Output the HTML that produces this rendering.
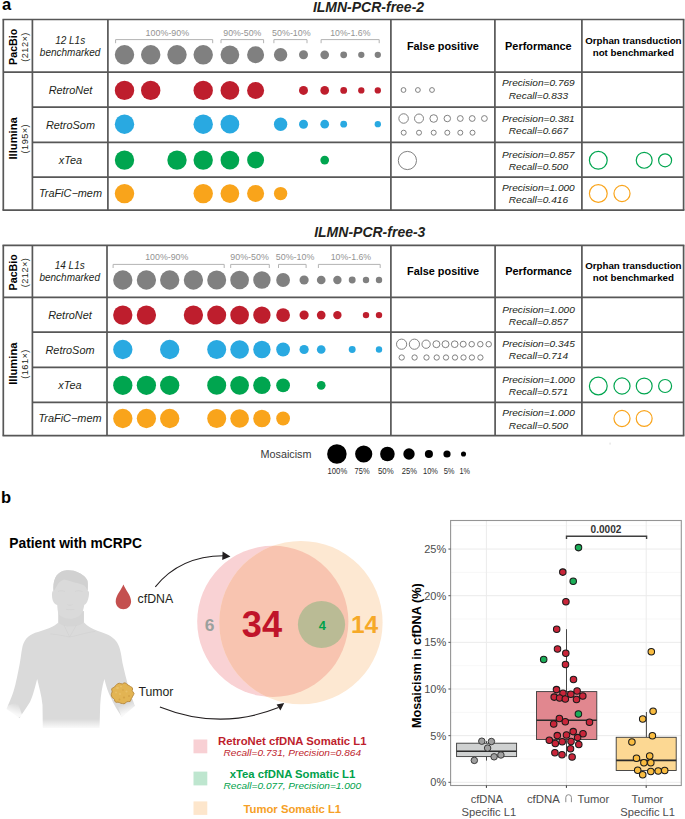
<!DOCTYPE html><html><head><meta charset="utf-8"><style>html,body{margin:0;padding:0;background:#fff;}svg{display:block;}text{font-family:"Liberation Sans",sans-serif;}</style></head><body>
<svg width="685" height="819" viewBox="0 0 685 819">
<rect width="685" height="819" fill="#fff"/>
<text x="2.0" y="9.8" font-size="16.5" font-weight="bold" font-style="normal" fill="#000" text-anchor="start" >a</text>
<text x="368.5" y="11.7" font-size="14.0" font-weight="bold" font-style="italic" fill="#231F20" text-anchor="middle" >ILMN-PCR-free-2</text>
<line x1="2.5" y1="19.5" x2="684.4" y2="19.5" stroke="#575757" stroke-width="1.7"/>
<line x1="2.5" y1="210.2" x2="684.4" y2="210.2" stroke="#575757" stroke-width="1.7"/>
<line x1="3.3" y1="19.5" x2="3.3" y2="210.2" stroke="#575757" stroke-width="1.7"/>
<line x1="683.6" y1="19.5" x2="683.6" y2="210.2" stroke="#575757" stroke-width="1.7"/>
<line x1="32.4" y1="19.5" x2="32.4" y2="210.2" stroke="#575757" stroke-width="1.7"/>
<line x1="107.9" y1="19.5" x2="107.9" y2="210.2" stroke="#575757" stroke-width="1.7"/>
<line x1="390.9" y1="19.5" x2="390.9" y2="210.2" stroke="#575757" stroke-width="1.7"/>
<line x1="494.9" y1="19.5" x2="494.9" y2="210.2" stroke="#575757" stroke-width="1.7"/>
<line x1="581.9" y1="19.5" x2="581.9" y2="210.2" stroke="#575757" stroke-width="1.7"/>
<line x1="3.3" y1="72.1" x2="683.6" y2="72.1" stroke="#575757" stroke-width="1.7"/>
<line x1="32.4" y1="107.1" x2="683.6" y2="107.1" stroke="#575757" stroke-width="1.7"/>
<line x1="32.4" y1="142.3" x2="683.6" y2="142.3" stroke="#575757" stroke-width="1.7"/>
<line x1="32.4" y1="177.1" x2="683.6" y2="177.1" stroke="#575757" stroke-width="1.7"/>
<g transform="translate(17.0,46.8) rotate(-90)"><text x="0" y="0" font-size="10.7" font-weight="bold" text-anchor="middle" fill="#000">PacBio</text></g>
<g transform="translate(27.7,47.0) rotate(-90)"><text x="0" y="0" font-size="9.2" letter-spacing="0.45" text-anchor="middle" fill="#231F20">(212×)</text></g>
<g transform="translate(17.0,138.34999999999997) rotate(-90)"><text x="0" y="0" font-size="11.2" font-weight="bold" text-anchor="middle" fill="#000">Illumina</text></g>
<g transform="translate(27.7,138.64999999999998) rotate(-90)"><text x="0" y="0" font-size="9.2" letter-spacing="0.45" text-anchor="middle" fill="#231F20">(195×)</text></g>
<text x="70.15" y="43.9" font-size="10" font-weight="normal" font-style="italic" fill="#231F20" text-anchor="middle" >12 L1s</text>
<text x="70.15" y="55.599999999999994" font-size="10" font-weight="normal" font-style="italic" fill="#231F20" text-anchor="middle" >benchmarked</text>
<text x="70.45" y="93.9" font-size="10.3" font-style="italic" fill="#231F20" text-anchor="middle" textLength="43.61" lengthAdjust="spacingAndGlyphs">RetroNet</text>
<text x="70.45" y="128.9" font-size="10.3" font-style="italic" fill="#231F20" text-anchor="middle" textLength="49.06" lengthAdjust="spacingAndGlyphs">RetroSom</text>
<text x="70.45" y="164.3" font-size="10.3" font-style="italic" fill="#231F20" text-anchor="middle" textLength="23.23" lengthAdjust="spacingAndGlyphs">xTea</text>
<text x="70.45" y="196.9" font-size="10.3" font-style="italic" fill="#231F20" text-anchor="middle" textLength="63.08" lengthAdjust="spacingAndGlyphs">TraFiC−mem</text>
<text x="442.9" y="49.6" font-size="10.9" font-weight="bold" font-style="normal" fill="#000" text-anchor="middle" >False positive</text>
<text x="538.4" y="49.6" font-size="10.9" font-weight="bold" font-style="normal" fill="#000" text-anchor="middle" >Performance</text>
<text x="633.35" y="44.0" font-size="9.75" font-weight="bold" font-style="normal" fill="#000" text-anchor="middle" >Orphan transduction</text>
<text x="633.35" y="55.800000000000004" font-size="9.75" font-weight="bold" font-style="normal" fill="#000" text-anchor="middle" >not benchmarked</text>
<path d="M115.6,43.2 V39.6 H212.7 V43.2" fill="none" stroke="#B3B3B3" stroke-width="1"/>
<text x="167.4" y="35.5" font-size="9.4" fill="#939393" text-anchor="middle" textLength="43.6" lengthAdjust="spacingAndGlyphs">100%-90%</text>
<path d="M221,43.2 V39.6 H263.6 V43.2" fill="none" stroke="#B3B3B3" stroke-width="1"/>
<text x="242.3" y="35.5" font-size="9.4" fill="#939393" text-anchor="middle" textLength="38.0" lengthAdjust="spacingAndGlyphs">90%-50%</text>
<path d="M273.9,43.2 V39.6 H307 V43.2" fill="none" stroke="#B3B3B3" stroke-width="1"/>
<text x="291.4" y="35.5" font-size="9.4" fill="#939393" text-anchor="middle" textLength="38.6" lengthAdjust="spacingAndGlyphs">50%-10%</text>
<path d="M321.1,43.2 V39.6 H379.2 V43.2" fill="none" stroke="#B3B3B3" stroke-width="1"/>
<text x="350.3" y="35.5" font-size="9.4" fill="#939393" text-anchor="middle" textLength="40.2" lengthAdjust="spacingAndGlyphs">10%-1.6%</text>
<circle cx="124.50" cy="54.80" r="9.70" fill="#808080" stroke="none" stroke-width="1"/>
<circle cx="150.70" cy="54.80" r="9.70" fill="#808080" stroke="none" stroke-width="1"/>
<circle cx="177.00" cy="54.80" r="9.70" fill="#808080" stroke="none" stroke-width="1"/>
<circle cx="203.20" cy="54.80" r="9.70" fill="#808080" stroke="none" stroke-width="1"/>
<circle cx="229.90" cy="54.80" r="9.35" fill="#808080" stroke="none" stroke-width="1"/>
<circle cx="255.60" cy="54.80" r="8.50" fill="#808080" stroke="none" stroke-width="1"/>
<circle cx="280.60" cy="54.80" r="6.70" fill="#808080" stroke="none" stroke-width="1"/>
<circle cx="303.50" cy="54.80" r="4.50" fill="#808080" stroke="none" stroke-width="1"/>
<circle cx="324.70" cy="54.80" r="4.35" fill="#808080" stroke="none" stroke-width="1"/>
<circle cx="343.70" cy="54.80" r="3.40" fill="#808080" stroke="none" stroke-width="1"/>
<circle cx="361.30" cy="54.80" r="3.15" fill="#808080" stroke="none" stroke-width="1"/>
<circle cx="377.80" cy="54.80" r="3.15" fill="#808080" stroke="none" stroke-width="1"/>
<circle cx="124.50" cy="90.40" r="9.70" fill="#BE1E2D" stroke="none" stroke-width="1"/>
<circle cx="150.70" cy="90.40" r="9.70" fill="#BE1E2D" stroke="none" stroke-width="1"/>
<circle cx="203.20" cy="90.40" r="9.70" fill="#BE1E2D" stroke="none" stroke-width="1"/>
<circle cx="229.90" cy="90.40" r="9.35" fill="#BE1E2D" stroke="none" stroke-width="1"/>
<circle cx="255.60" cy="90.40" r="8.50" fill="#BE1E2D" stroke="none" stroke-width="1"/>
<circle cx="303.50" cy="90.40" r="4.50" fill="#BE1E2D" stroke="none" stroke-width="1"/>
<circle cx="324.70" cy="90.40" r="4.35" fill="#BE1E2D" stroke="none" stroke-width="1"/>
<circle cx="343.70" cy="90.40" r="3.40" fill="#BE1E2D" stroke="none" stroke-width="1"/>
<circle cx="361.30" cy="90.40" r="3.15" fill="#BE1E2D" stroke="none" stroke-width="1"/>
<circle cx="377.80" cy="90.40" r="3.15" fill="#BE1E2D" stroke="none" stroke-width="1"/>
<circle cx="124.50" cy="124.20" r="9.70" fill="#29A9E1" stroke="none" stroke-width="1"/>
<circle cx="203.20" cy="124.20" r="9.70" fill="#29A9E1" stroke="none" stroke-width="1"/>
<circle cx="229.90" cy="124.20" r="9.35" fill="#29A9E1" stroke="none" stroke-width="1"/>
<circle cx="280.60" cy="124.20" r="6.70" fill="#29A9E1" stroke="none" stroke-width="1"/>
<circle cx="303.50" cy="124.20" r="4.50" fill="#29A9E1" stroke="none" stroke-width="1"/>
<circle cx="324.70" cy="124.20" r="4.35" fill="#29A9E1" stroke="none" stroke-width="1"/>
<circle cx="343.70" cy="124.20" r="3.40" fill="#29A9E1" stroke="none" stroke-width="1"/>
<circle cx="377.80" cy="124.20" r="3.15" fill="#29A9E1" stroke="none" stroke-width="1"/>
<circle cx="124.50" cy="160.10" r="9.70" fill="#00A54F" stroke="none" stroke-width="1"/>
<circle cx="177.00" cy="160.10" r="9.70" fill="#00A54F" stroke="none" stroke-width="1"/>
<circle cx="203.20" cy="160.10" r="9.70" fill="#00A54F" stroke="none" stroke-width="1"/>
<circle cx="229.90" cy="160.10" r="9.35" fill="#00A54F" stroke="none" stroke-width="1"/>
<circle cx="255.60" cy="160.10" r="8.50" fill="#00A54F" stroke="none" stroke-width="1"/>
<circle cx="324.70" cy="160.10" r="4.35" fill="#00A54F" stroke="none" stroke-width="1"/>
<circle cx="124.50" cy="193.60" r="9.70" fill="#F9A41B" stroke="none" stroke-width="1"/>
<circle cx="203.20" cy="193.60" r="9.70" fill="#F9A41B" stroke="none" stroke-width="1"/>
<circle cx="229.90" cy="193.60" r="9.35" fill="#F9A41B" stroke="none" stroke-width="1"/>
<circle cx="255.60" cy="193.60" r="8.50" fill="#F9A41B" stroke="none" stroke-width="1"/>
<circle cx="280.60" cy="193.60" r="6.70" fill="#F9A41B" stroke="none" stroke-width="1"/>
<text x="538.4" y="86.4" font-size="9.0" font-style="italic" fill="#231F20" text-anchor="middle" textLength="72.71" lengthAdjust="spacingAndGlyphs">Precision=0.769</text>
<text x="538.4" y="99.4" font-size="9.0" font-style="italic" fill="#231F20" text-anchor="middle" textLength="59.24" lengthAdjust="spacingAndGlyphs">Recall=0.833</text>
<text x="538.4" y="122.2" font-size="9.0" font-style="italic" fill="#231F20" text-anchor="middle" textLength="72.71" lengthAdjust="spacingAndGlyphs">Precision=0.381</text>
<text x="538.4" y="134.4" font-size="9.0" font-style="italic" fill="#231F20" text-anchor="middle" textLength="59.24" lengthAdjust="spacingAndGlyphs">Recall=0.667</text>
<text x="538.4" y="157.7" font-size="9.0" font-style="italic" fill="#231F20" text-anchor="middle" textLength="72.71" lengthAdjust="spacingAndGlyphs">Precision=0.857</text>
<text x="538.4" y="170.2" font-size="9.0" font-style="italic" fill="#231F20" text-anchor="middle" textLength="59.24" lengthAdjust="spacingAndGlyphs">Recall=0.500</text>
<text x="538.4" y="191.1" font-size="9.0" font-style="italic" fill="#231F20" text-anchor="middle" textLength="72.71" lengthAdjust="spacingAndGlyphs">Precision=1.000</text>
<text x="538.4" y="203.2" font-size="9.0" font-style="italic" fill="#231F20" text-anchor="middle" textLength="59.24" lengthAdjust="spacingAndGlyphs">Recall=0.416</text>
<circle cx="403.50" cy="90.00" r="2.40" fill="none" stroke="#7A7A7A" stroke-width="0.95"/>
<circle cx="417.90" cy="90.00" r="2.40" fill="none" stroke="#7A7A7A" stroke-width="0.95"/>
<circle cx="432.00" cy="90.00" r="2.40" fill="none" stroke="#7A7A7A" stroke-width="0.95"/>
<circle cx="403.60" cy="118.50" r="4.75" fill="none" stroke="#7A7A7A" stroke-width="0.95"/>
<circle cx="419.00" cy="118.50" r="4.50" fill="none" stroke="#7A7A7A" stroke-width="0.95"/>
<circle cx="433.70" cy="118.50" r="3.80" fill="none" stroke="#7A7A7A" stroke-width="0.95"/>
<circle cx="447.30" cy="118.50" r="3.25" fill="none" stroke="#7A7A7A" stroke-width="0.95"/>
<circle cx="460.30" cy="118.50" r="2.90" fill="none" stroke="#7A7A7A" stroke-width="0.95"/>
<circle cx="472.20" cy="118.50" r="2.90" fill="none" stroke="#7A7A7A" stroke-width="0.95"/>
<circle cx="484.40" cy="118.50" r="2.90" fill="none" stroke="#7A7A7A" stroke-width="0.95"/>
<circle cx="403.70" cy="132.70" r="2.50" fill="none" stroke="#7A7A7A" stroke-width="0.95"/>
<circle cx="419.00" cy="132.70" r="2.50" fill="none" stroke="#7A7A7A" stroke-width="0.95"/>
<circle cx="433.70" cy="132.70" r="2.50" fill="none" stroke="#7A7A7A" stroke-width="0.95"/>
<circle cx="447.30" cy="132.70" r="2.50" fill="none" stroke="#7A7A7A" stroke-width="0.95"/>
<circle cx="460.30" cy="132.70" r="2.50" fill="none" stroke="#7A7A7A" stroke-width="0.95"/>
<circle cx="472.50" cy="132.70" r="2.50" fill="none" stroke="#7A7A7A" stroke-width="0.95"/>
<circle cx="407.40" cy="160.50" r="9.10" fill="none" stroke="#7A7A7A" stroke-width="0.95"/>
<circle cx="598.30" cy="160.30" r="8.90" fill="none" stroke="#00A54F" stroke-width="1.2"/>
<circle cx="644.20" cy="160.30" r="7.95" fill="none" stroke="#00A54F" stroke-width="1.2"/>
<circle cx="665.10" cy="160.30" r="6.50" fill="none" stroke="#00A54F" stroke-width="1.2"/>
<circle cx="598.30" cy="193.50" r="8.90" fill="none" stroke="#F9A41B" stroke-width="1.2"/>
<circle cx="622.00" cy="193.50" r="8.05" fill="none" stroke="#F9A41B" stroke-width="1.2"/>
<text x="369.8" y="237.4" font-size="14.0" font-weight="bold" font-style="italic" fill="#231F20" text-anchor="middle" >ILMN-PCR-free-3</text>
<line x1="2.5" y1="245.3" x2="684.4" y2="245.3" stroke="#575757" stroke-width="1.7"/>
<line x1="2.5" y1="435.6" x2="684.4" y2="435.6" stroke="#575757" stroke-width="1.7"/>
<line x1="3.3" y1="245.3" x2="3.3" y2="435.6" stroke="#575757" stroke-width="1.7"/>
<line x1="683.6" y1="245.3" x2="683.6" y2="435.6" stroke="#575757" stroke-width="1.7"/>
<line x1="32.4" y1="245.3" x2="32.4" y2="435.6" stroke="#575757" stroke-width="1.7"/>
<line x1="107.0" y1="245.3" x2="107.0" y2="435.6" stroke="#575757" stroke-width="1.7"/>
<line x1="390.9" y1="245.3" x2="390.9" y2="435.6" stroke="#575757" stroke-width="1.7"/>
<line x1="495.1" y1="245.3" x2="495.1" y2="435.6" stroke="#575757" stroke-width="1.7"/>
<line x1="581.9" y1="245.3" x2="581.9" y2="435.6" stroke="#575757" stroke-width="1.7"/>
<line x1="3.3" y1="297.3" x2="683.6" y2="297.3" stroke="#575757" stroke-width="1.7"/>
<line x1="32.4" y1="332.2" x2="683.6" y2="332.2" stroke="#575757" stroke-width="1.7"/>
<line x1="32.4" y1="367.3" x2="683.6" y2="367.3" stroke="#575757" stroke-width="1.7"/>
<line x1="32.4" y1="402.3" x2="683.6" y2="402.3" stroke="#575757" stroke-width="1.7"/>
<g transform="translate(17.0,272.3) rotate(-90)"><text x="0" y="0" font-size="10.7" font-weight="bold" text-anchor="middle" fill="#000">PacBio</text></g>
<g transform="translate(27.7,272.5) rotate(-90)"><text x="0" y="0" font-size="9.2" letter-spacing="0.45" text-anchor="middle" fill="#231F20">(212×)</text></g>
<g transform="translate(17.0,363.65000000000003) rotate(-90)"><text x="0" y="0" font-size="11.2" font-weight="bold" text-anchor="middle" fill="#000">Illumina</text></g>
<g transform="translate(27.7,363.95000000000005) rotate(-90)"><text x="0" y="0" font-size="9.2" letter-spacing="0.45" text-anchor="middle" fill="#231F20">(161×)</text></g>
<text x="69.7" y="269.40000000000003" font-size="10" font-weight="normal" font-style="italic" fill="#231F20" text-anchor="middle" >14 L1s</text>
<text x="69.7" y="281.1" font-size="10" font-weight="normal" font-style="italic" fill="#231F20" text-anchor="middle" >benchmarked</text>
<text x="70.0" y="318.9" font-size="10.3" font-style="italic" fill="#231F20" text-anchor="middle" textLength="43.61" lengthAdjust="spacingAndGlyphs">RetroNet</text>
<text x="70.0" y="353.5" font-size="10.3" font-style="italic" fill="#231F20" text-anchor="middle" textLength="49.06" lengthAdjust="spacingAndGlyphs">RetroSom</text>
<text x="70.0" y="389.3" font-size="10.3" font-style="italic" fill="#231F20" text-anchor="middle" textLength="23.23" lengthAdjust="spacingAndGlyphs">xTea</text>
<text x="70.0" y="421.6" font-size="10.3" font-style="italic" fill="#231F20" text-anchor="middle" textLength="63.08" lengthAdjust="spacingAndGlyphs">TraFiC−mem</text>
<text x="443.0" y="274.9" font-size="10.9" font-weight="bold" font-style="normal" fill="#000" text-anchor="middle" >False positive</text>
<text x="538.5" y="274.9" font-size="10.9" font-weight="bold" font-style="normal" fill="#000" text-anchor="middle" >Performance</text>
<text x="633.35" y="269.29999999999995" font-size="9.75" font-weight="bold" font-style="normal" fill="#000" text-anchor="middle" >Orphan transduction</text>
<text x="633.35" y="281.09999999999997" font-size="9.75" font-weight="bold" font-style="normal" fill="#000" text-anchor="middle" >not benchmarked</text>
<path d="M113.1,268.0 V264.4 H224.2 V268.0" fill="none" stroke="#B3B3B3" stroke-width="1"/>
<text x="166.8" y="260.29999999999995" font-size="9.4" fill="#939393" text-anchor="middle" textLength="43.2" lengthAdjust="spacingAndGlyphs">100%-90%</text>
<path d="M230.7,268.0 V264.4 H269.3 V268.0" fill="none" stroke="#B3B3B3" stroke-width="1"/>
<text x="249.6" y="260.29999999999995" font-size="9.4" fill="#939393" text-anchor="middle" textLength="38.5" lengthAdjust="spacingAndGlyphs">90%-50%</text>
<path d="M278.5,268.0 V264.4 H306.1 V268.0" fill="none" stroke="#B3B3B3" stroke-width="1"/>
<text x="295.1" y="260.29999999999995" font-size="9.4" fill="#939393" text-anchor="middle" textLength="38.5" lengthAdjust="spacingAndGlyphs">50%-10%</text>
<path d="M318.4,268.0 V264.4 H380.2 V268.0" fill="none" stroke="#B3B3B3" stroke-width="1"/>
<text x="350.9" y="260.29999999999995" font-size="9.4" fill="#939393" text-anchor="middle" textLength="40.3" lengthAdjust="spacingAndGlyphs">10%-1.6%</text>
<circle cx="122.80" cy="280.00" r="9.65" fill="#808080" stroke="none" stroke-width="1"/>
<circle cx="146.40" cy="280.00" r="9.65" fill="#808080" stroke="none" stroke-width="1"/>
<circle cx="169.70" cy="280.00" r="9.65" fill="#808080" stroke="none" stroke-width="1"/>
<circle cx="193.40" cy="280.00" r="9.65" fill="#808080" stroke="none" stroke-width="1"/>
<circle cx="216.70" cy="280.00" r="9.50" fill="#808080" stroke="none" stroke-width="1"/>
<circle cx="239.60" cy="280.00" r="9.35" fill="#808080" stroke="none" stroke-width="1"/>
<circle cx="261.90" cy="280.00" r="8.70" fill="#808080" stroke="none" stroke-width="1"/>
<circle cx="283.10" cy="280.00" r="6.90" fill="#808080" stroke="none" stroke-width="1"/>
<circle cx="304.10" cy="280.00" r="4.60" fill="#808080" stroke="none" stroke-width="1"/>
<circle cx="321.20" cy="280.00" r="4.35" fill="#808080" stroke="none" stroke-width="1"/>
<circle cx="337.40" cy="280.00" r="4.20" fill="#808080" stroke="none" stroke-width="1"/>
<circle cx="352.20" cy="280.00" r="3.45" fill="#808080" stroke="none" stroke-width="1"/>
<circle cx="366.00" cy="280.00" r="3.20" fill="#808080" stroke="none" stroke-width="1"/>
<circle cx="379.00" cy="280.00" r="3.20" fill="#808080" stroke="none" stroke-width="1"/>
<circle cx="122.80" cy="315.10" r="9.65" fill="#BE1E2D" stroke="none" stroke-width="1"/>
<circle cx="146.40" cy="315.10" r="9.65" fill="#BE1E2D" stroke="none" stroke-width="1"/>
<circle cx="193.40" cy="315.10" r="9.65" fill="#BE1E2D" stroke="none" stroke-width="1"/>
<circle cx="216.70" cy="315.10" r="9.50" fill="#BE1E2D" stroke="none" stroke-width="1"/>
<circle cx="239.60" cy="315.10" r="9.35" fill="#BE1E2D" stroke="none" stroke-width="1"/>
<circle cx="261.90" cy="315.10" r="8.70" fill="#BE1E2D" stroke="none" stroke-width="1"/>
<circle cx="283.10" cy="315.10" r="6.90" fill="#BE1E2D" stroke="none" stroke-width="1"/>
<circle cx="304.10" cy="315.10" r="4.60" fill="#BE1E2D" stroke="none" stroke-width="1"/>
<circle cx="321.20" cy="315.10" r="4.35" fill="#BE1E2D" stroke="none" stroke-width="1"/>
<circle cx="337.40" cy="315.10" r="4.20" fill="#BE1E2D" stroke="none" stroke-width="1"/>
<circle cx="366.00" cy="315.10" r="3.20" fill="#BE1E2D" stroke="none" stroke-width="1"/>
<circle cx="379.00" cy="315.10" r="3.20" fill="#BE1E2D" stroke="none" stroke-width="1"/>
<circle cx="122.80" cy="349.50" r="9.65" fill="#29A9E1" stroke="none" stroke-width="1"/>
<circle cx="169.70" cy="349.50" r="9.65" fill="#29A9E1" stroke="none" stroke-width="1"/>
<circle cx="216.70" cy="349.50" r="9.50" fill="#29A9E1" stroke="none" stroke-width="1"/>
<circle cx="239.60" cy="349.50" r="9.35" fill="#29A9E1" stroke="none" stroke-width="1"/>
<circle cx="261.90" cy="349.50" r="8.70" fill="#29A9E1" stroke="none" stroke-width="1"/>
<circle cx="283.10" cy="349.50" r="6.90" fill="#29A9E1" stroke="none" stroke-width="1"/>
<circle cx="304.10" cy="349.50" r="4.60" fill="#29A9E1" stroke="none" stroke-width="1"/>
<circle cx="321.20" cy="349.50" r="4.35" fill="#29A9E1" stroke="none" stroke-width="1"/>
<circle cx="352.20" cy="349.50" r="3.45" fill="#29A9E1" stroke="none" stroke-width="1"/>
<circle cx="379.00" cy="349.50" r="3.20" fill="#29A9E1" stroke="none" stroke-width="1"/>
<circle cx="122.80" cy="385.30" r="9.65" fill="#00A54F" stroke="none" stroke-width="1"/>
<circle cx="146.40" cy="385.30" r="9.65" fill="#00A54F" stroke="none" stroke-width="1"/>
<circle cx="169.70" cy="385.30" r="9.65" fill="#00A54F" stroke="none" stroke-width="1"/>
<circle cx="216.70" cy="385.30" r="9.50" fill="#00A54F" stroke="none" stroke-width="1"/>
<circle cx="239.60" cy="385.30" r="9.35" fill="#00A54F" stroke="none" stroke-width="1"/>
<circle cx="261.90" cy="385.30" r="8.70" fill="#00A54F" stroke="none" stroke-width="1"/>
<circle cx="283.10" cy="385.30" r="6.90" fill="#00A54F" stroke="none" stroke-width="1"/>
<circle cx="321.20" cy="385.30" r="4.35" fill="#00A54F" stroke="none" stroke-width="1"/>
<circle cx="122.80" cy="418.50" r="9.65" fill="#F9A41B" stroke="none" stroke-width="1"/>
<circle cx="146.40" cy="418.50" r="9.65" fill="#F9A41B" stroke="none" stroke-width="1"/>
<circle cx="169.70" cy="418.50" r="9.65" fill="#F9A41B" stroke="none" stroke-width="1"/>
<circle cx="216.70" cy="418.50" r="9.50" fill="#F9A41B" stroke="none" stroke-width="1"/>
<circle cx="239.60" cy="418.50" r="9.35" fill="#F9A41B" stroke="none" stroke-width="1"/>
<circle cx="261.90" cy="418.50" r="8.70" fill="#F9A41B" stroke="none" stroke-width="1"/>
<circle cx="283.10" cy="418.50" r="6.90" fill="#F9A41B" stroke="none" stroke-width="1"/>
<text x="538.5" y="312.6" font-size="9.0" font-style="italic" fill="#231F20" text-anchor="middle" textLength="72.71" lengthAdjust="spacingAndGlyphs">Precision=1.000</text>
<text x="538.5" y="325.1" font-size="9.0" font-style="italic" fill="#231F20" text-anchor="middle" textLength="59.24" lengthAdjust="spacingAndGlyphs">Recall=0.857</text>
<text x="538.5" y="346.7" font-size="9.0" font-style="italic" fill="#231F20" text-anchor="middle" textLength="72.71" lengthAdjust="spacingAndGlyphs">Precision=0.345</text>
<text x="538.5" y="359.0" font-size="9.0" font-style="italic" fill="#231F20" text-anchor="middle" textLength="59.24" lengthAdjust="spacingAndGlyphs">Recall=0.714</text>
<text x="538.5" y="382.8" font-size="9.0" font-style="italic" fill="#231F20" text-anchor="middle" textLength="72.71" lengthAdjust="spacingAndGlyphs">Precision=1.000</text>
<text x="538.5" y="395.1" font-size="9.0" font-style="italic" fill="#231F20" text-anchor="middle" textLength="59.24" lengthAdjust="spacingAndGlyphs">Recall=0.571</text>
<text x="538.5" y="416.3" font-size="9.0" font-style="italic" fill="#231F20" text-anchor="middle" textLength="72.71" lengthAdjust="spacingAndGlyphs">Precision=1.000</text>
<text x="538.5" y="428.5" font-size="9.0" font-style="italic" fill="#231F20" text-anchor="middle" textLength="59.24" lengthAdjust="spacingAndGlyphs">Recall=0.500</text>
<circle cx="401.60" cy="344.20" r="5.10" fill="none" stroke="#7A7A7A" stroke-width="0.95"/>
<circle cx="414.40" cy="344.20" r="5.10" fill="none" stroke="#7A7A7A" stroke-width="0.95"/>
<circle cx="426.10" cy="344.20" r="4.15" fill="none" stroke="#7A7A7A" stroke-width="0.95"/>
<circle cx="436.40" cy="344.20" r="3.50" fill="none" stroke="#7A7A7A" stroke-width="0.95"/>
<circle cx="445.50" cy="344.20" r="3.50" fill="none" stroke="#7A7A7A" stroke-width="0.95"/>
<circle cx="454.70" cy="344.20" r="3.35" fill="none" stroke="#7A7A7A" stroke-width="0.95"/>
<circle cx="463.20" cy="344.20" r="3.00" fill="none" stroke="#7A7A7A" stroke-width="0.95"/>
<circle cx="471.70" cy="344.20" r="2.75" fill="none" stroke="#7A7A7A" stroke-width="0.95"/>
<circle cx="480.30" cy="344.20" r="2.75" fill="none" stroke="#7A7A7A" stroke-width="0.95"/>
<circle cx="488.70" cy="344.20" r="2.75" fill="none" stroke="#7A7A7A" stroke-width="0.95"/>
<circle cx="401.70" cy="357.50" r="2.65" fill="none" stroke="#7A7A7A" stroke-width="0.95"/>
<circle cx="414.60" cy="357.50" r="2.65" fill="none" stroke="#7A7A7A" stroke-width="0.95"/>
<circle cx="426.50" cy="357.50" r="2.65" fill="none" stroke="#7A7A7A" stroke-width="0.95"/>
<circle cx="436.70" cy="357.50" r="2.65" fill="none" stroke="#7A7A7A" stroke-width="0.95"/>
<circle cx="446.00" cy="357.50" r="2.65" fill="none" stroke="#7A7A7A" stroke-width="0.95"/>
<circle cx="455.00" cy="357.50" r="2.65" fill="none" stroke="#7A7A7A" stroke-width="0.95"/>
<circle cx="463.50" cy="357.50" r="2.65" fill="none" stroke="#7A7A7A" stroke-width="0.95"/>
<circle cx="471.90" cy="357.50" r="2.65" fill="none" stroke="#7A7A7A" stroke-width="0.95"/>
<circle cx="480.40" cy="357.50" r="2.65" fill="none" stroke="#7A7A7A" stroke-width="0.95"/>
<circle cx="598.30" cy="386.00" r="8.90" fill="none" stroke="#00A54F" stroke-width="1.2"/>
<circle cx="622.00" cy="386.00" r="8.05" fill="none" stroke="#00A54F" stroke-width="1.2"/>
<circle cx="644.20" cy="386.00" r="7.95" fill="none" stroke="#00A54F" stroke-width="1.2"/>
<circle cx="665.10" cy="386.00" r="6.50" fill="none" stroke="#00A54F" stroke-width="1.2"/>
<circle cx="622.00" cy="418.50" r="8.05" fill="none" stroke="#F9A41B" stroke-width="1.2"/>
<circle cx="644.20" cy="418.50" r="7.95" fill="none" stroke="#F9A41B" stroke-width="1.2"/>
<text x="286" y="457.9" font-size="10.8" font-weight="normal" font-style="normal" fill="#3A3A3A" text-anchor="middle" >Mosaicism</text>
<circle cx="336.90" cy="454.00" r="9.75" fill="#000" stroke="none" stroke-width="1"/>
<text x="337.4" y="473.8" font-size="8.4" fill="#2B2B2B" text-anchor="middle" textLength="19.6" lengthAdjust="spacingAndGlyphs">100%</text>
<circle cx="363.70" cy="454.00" r="8.60" fill="#000" stroke="none" stroke-width="1"/>
<text x="362.1" y="473.8" font-size="8.4" fill="#2B2B2B" text-anchor="middle" textLength="15.0" lengthAdjust="spacingAndGlyphs">75%</text>
<circle cx="387.40" cy="454.00" r="7.30" fill="#000" stroke="none" stroke-width="1"/>
<text x="385.8" y="473.8" font-size="8.4" fill="#2B2B2B" text-anchor="middle" textLength="15.6" lengthAdjust="spacingAndGlyphs">50%</text>
<circle cx="409.00" cy="454.00" r="5.70" fill="#000" stroke="none" stroke-width="1"/>
<text x="409.3" y="473.8" font-size="8.4" fill="#2B2B2B" text-anchor="middle" textLength="15.2" lengthAdjust="spacingAndGlyphs">25%</text>
<circle cx="428.90" cy="454.00" r="4.05" fill="#000" stroke="none" stroke-width="1"/>
<text x="430.5" y="473.8" font-size="8.4" fill="#2B2B2B" text-anchor="middle" textLength="14.9" lengthAdjust="spacingAndGlyphs">10%</text>
<circle cx="447.00" cy="454.00" r="3.60" fill="#000" stroke="none" stroke-width="1"/>
<text x="449.1" y="473.8" font-size="8.4" fill="#2B2B2B" text-anchor="middle" textLength="10.9" lengthAdjust="spacingAndGlyphs">5%</text>
<circle cx="463.50" cy="454.00" r="2.55" fill="#000" stroke="none" stroke-width="1"/>
<text x="464.8" y="473.8" font-size="8.4" fill="#2B2B2B" text-anchor="middle" textLength="10.5" lengthAdjust="spacingAndGlyphs">1%</text>
<rect x="609.6" y="442.6" width="0.9" height="2" fill="#d8d8d8"/>
<text x="0.9" y="503.4" font-size="16.5" font-weight="bold" font-style="normal" fill="#000" text-anchor="start" >b</text>
<text x="9.3" y="548.2" font-size="13.8" font-weight="bold" font-style="normal" fill="#000" text-anchor="start" >Patient with mCRPC</text>
<defs><linearGradient id="fw" x1="0" y1="0" x2="0" y2="1"><stop offset="0" stop-color="#fff" stop-opacity="0"/><stop offset="1" stop-color="#fff" stop-opacity="0.92"/></linearGradient><linearGradient id="fwL" gradientUnits="userSpaceOnUse" x1="16.2" y1="703.5" x2="13.2" y2="713.2"><stop offset="0" stop-color="#fff" stop-opacity="0"/><stop offset="1" stop-color="#fff" stop-opacity="0.85"/></linearGradient><linearGradient id="fwR" gradientUnits="userSpaceOnUse" x1="125.5" y1="703.5" x2="128.6" y2="712.6"><stop offset="0" stop-color="#fff" stop-opacity="0"/><stop offset="1" stop-color="#fff" stop-opacity="0.85"/></linearGradient></defs>
<path d="M58.4,611 L58.4,622.5 C54,627 46,629.5 38,632 C30,634 25,638 22.6,646 C21,653 20.5,662 18.5,670 C16.5,680 14.5,690 11.5,697 C9.5,702 8,705 6.5,709 L19.6,718 C23,712 27,707 30,702 C33,696 35,687 37.2,679 C39,687 41.5,695 42.5,705 L42.8,728 L99.5,728 L100.2,705 C100.8,695 102,687 104.4,679 C106,686 108,692 111,698 C114,705 118,711 121.9,717 L134.8,706 C132,698 130,692 128.5,687 C126.5,680 124.5,672 122.5,663 C121,653 120,646 116,641 C112,636 106,633.5 98,631 C92,629 87,626 84,622.5 L84,611 Z" fill="#DADADA"/>
<path d="M58.4,612 L58.4,622.5 C60,624.5 64,626.5 70.5,626.5 C77,626.5 81.5,624.5 83.6,622.5 L83.6,612 Z" fill="#D5D5D5"/>
<path d="M58.3,614 C57.8,611 57.3,608 57.2,605 C55.5,604.5 53.5,603 52.6,600 C51.8,597 51.8,593 52.4,591.6 C53,590.6 53.3,591 53.5,591.5 C53.2,587 53.3,582 55.3,577.7 C57,574.5 60,572 62.7,571.1 C66,569.8 74,569.6 78.8,572.8 C83,575 87,578 87.6,581.4 C88,584 87.8,588 87.6,591.2 C88.5,590.8 89.3,592 89,594 C88.8,598 87.5,602 86.1,603.4 C85.3,604.3 84.8,604.8 84.3,604.8 C84,607 83.3,609.5 82.6,612 C80,616.5 75,618.8 70.3,618.8 C65.5,618.8 61,616.8 58.3,614 Z" fill="#DADADA"/>
<path d="M53.5,591.5 C53.2,587 53.3,582 55.3,577.7 C57,574.5 60,572 62.7,571.1 C66,569.8 74,569.6 78.8,572.8 C83,575 87,578 87.6,581.4 C88,584 87.8,588 87.6,591.2 C86.5,588 85,585.5 83.2,585 C78,583.5 70,581 64.1,579.6 C61,580.5 58.5,582.5 57.2,585.5 C55.5,588 54.3,590 53.5,591.5 Z" fill="#D1D1D1"/>
<g stroke="#CECECE" stroke-width="0.5" fill="none"><path d="M58,591.5 C60,590.5 63,590.5 65,591.5 M75,591.5 C77,590.5 80,590.5 82.5,591.5"/><path d="M67.5,604.5 C69,605.5 71,605.5 72.5,604.5 M66,609.3 C68.5,609.8 72,609.8 74.5,609.3"/><path d="M64,625.2 L69.6,637 L76.3,625.2 M50.2,633.9 C58,634.5 64,636 69.6,637 C76,636 86,632.5 95.2,631.4"/></g>
<rect x="40" y="719" width="62" height="9.5" fill="url(#fw)"/>
<path d="M4,707 L17.5,702 L22.5,716 L9,721 Z" fill="url(#fwL)"/>
<path d="M118,707 L133,702 L137.5,714 L122.5,720 Z" fill="url(#fwR)"/>
<path d="M123.4,584.6 C125.5,590 131.1,595.5 131.1,601.5 C131.1,606 127.6,609.2 123.4,609.2 C119.2,609.2 115.7,606 115.7,601.5 C115.7,595.5 121.3,590 123.4,584.6 Z" fill="#C4504F"/>
<text x="137.6" y="602.5" font-size="12.3" font-weight="normal" font-style="normal" fill="#231F20" text-anchor="start" >cfDNA</text>
<path d="M134.04,693.30 L133.58,694.78 L132.78,696.09 L132.18,697.39 L131.34,698.56 L130.88,700.06 L130.10,701.51 L128.24,701.63 L126.64,701.76 L125.53,703.08 L124.03,703.78 L122.40,703.54 L120.84,703.28 L119.42,702.58 L117.99,702.14 L116.11,702.33 L114.83,701.35 L114.53,699.53 L113.55,698.50 L112.18,697.59 L111.59,696.22 L111.24,694.78 L111.47,693.30 L112.21,691.96 L111.89,690.47 L111.63,688.75 L113.06,687.79 L114.54,687.08 L115.31,685.80 L116.40,684.73 L117.70,683.84 L119.18,683.20 L120.90,683.73 L122.40,683.90 L124.03,682.88 L125.68,682.98 L126.88,684.31 L128.15,685.11 L129.49,685.80 L130.71,686.69 L132.15,687.52 L132.64,689.00 L132.20,690.68 L132.96,691.91 Z" fill="#E2B453" stroke="#B7873A" stroke-width="0.9" stroke-linejoin="round"/>
<g fill="#EAC26C" opacity="0.85"><circle cx="117.5" cy="688" r="1.3"/><circle cx="121" cy="686.5" r="1"/><circle cx="126.5" cy="691.5" r="1.1"/><circle cx="120" cy="694" r="0.9"/><circle cx="116" cy="692.5" r="1"/></g>
<g fill="#D2A045" opacity="0.8"><circle cx="124" cy="697.5" r="1.1"/><circle cx="119.5" cy="699.5" r="0.9"/><circle cx="129" cy="696" r="1"/><circle cx="123" cy="690" r="0.8"/></g>
<text x="138.4" y="696" font-size="12.3" font-weight="normal" font-style="normal" fill="#231F20" text-anchor="start" >Tumor</text>
<path d="M155.3,586.8 Q180,556 223.5,555.7" fill="none" stroke="#231F20" stroke-width="1.1"/>
<path d="M230.4,556.5 L222.6,551.4 L222.2,560 Z" fill="#231F20"/>
<path d="M159.9,706.9 Q220,731 278.5,707.6" fill="none" stroke="#231F20" stroke-width="1.1"/>
<path d="M284.2,703.1 L276.6,704.6 L280.4,710.6 Z" fill="#231F20"/>
<circle cx="272.8" cy="621.4" r="75.6" fill="#F9D2D4"/>
<circle cx="300.9" cy="622.6" r="81.7" fill="#FDE8D2"/>
<clipPath id="cpPink"><circle cx="272.8" cy="621.4" r="75.6"/></clipPath>
<circle cx="300.9" cy="622.6" r="81.7" fill="#F8C4B0" clip-path="url(#cpPink)"/>
<circle cx="321.5" cy="624.5" r="23.6" fill="#BABB95"/>
<text x="209.5" y="630.5" font-size="17.4" font-weight="bold" font-style="normal" fill="#9AA09D" text-anchor="middle" >6</text>
<text x="262" y="636.9" font-size="36.2" font-weight="bold" font-style="normal" fill="#C0142A" text-anchor="middle" >34</text>
<text x="322.3" y="629.6" font-size="12.8" font-weight="bold" font-style="normal" fill="#00A14B" text-anchor="middle" >4</text>
<text x="364.6" y="633.2" font-size="24.5" font-weight="bold" font-style="normal" fill="#F6A928" text-anchor="middle" >14</text>
<rect x="193.5" y="739.5" width="13.8" height="13.8" fill="#F8D0D4"/>
<rect x="193.5" y="771.6" width="13.8" height="13.8" fill="#BEE6CF"/>
<rect x="193.5" y="801.4" width="13.8" height="13.5" fill="#FDE6CC"/>
<text x="292.3" y="744.9" font-size="11.3" font-weight="bold" font-style="normal" fill="#BE1E2D" text-anchor="middle" >RetroNet cfDNA Somatic L1</text>
<text x="292.3" y="755.5" font-size="9.0" font-style="italic" fill="#BE1E2D" text-anchor="middle" textLength="137.56" lengthAdjust="spacingAndGlyphs">Recall=0.731, Precision=0.864</text>
<text x="292.5" y="778" font-size="11.3" font-weight="bold" font-style="normal" fill="#00A14B" text-anchor="middle" >xTea cfDNA Somatic L1</text>
<text x="292.3" y="789.2" font-size="9.0" font-style="italic" fill="#00A14B" text-anchor="middle" textLength="137.56" lengthAdjust="spacingAndGlyphs">Recall=0.077, Precision=1.000</text>
<text x="292.3" y="812.7" font-size="11.3" font-weight="bold" font-style="normal" fill="#F6A026" text-anchor="middle" >Tumor Somatic L1</text>
<rect x="450.6" y="520.5" width="230.69999999999993" height="265.0" fill="#fff"/>
<line x1="450.6" y1="758.9749999999999" x2="681.3" y2="758.9749999999999" stroke="#F2F2F2" stroke-width="0.6"/>
<line x1="450.6" y1="712.3249999999999" x2="681.3" y2="712.3249999999999" stroke="#F2F2F2" stroke-width="0.6"/>
<line x1="450.6" y1="665.675" x2="681.3" y2="665.675" stroke="#F2F2F2" stroke-width="0.6"/>
<line x1="450.6" y1="619.025" x2="681.3" y2="619.025" stroke="#F2F2F2" stroke-width="0.6"/>
<line x1="450.6" y1="572.375" x2="681.3" y2="572.375" stroke="#F2F2F2" stroke-width="0.6"/>
<line x1="450.6" y1="525.7249999999999" x2="681.3" y2="525.7249999999999" stroke="#F2F2F2" stroke-width="0.6"/>
<line x1="450.6" y1="782.3" x2="681.3" y2="782.3" stroke="#EBEBEB" stroke-width="1.0"/>
<line x1="450.6" y1="735.65" x2="681.3" y2="735.65" stroke="#EBEBEB" stroke-width="1.0"/>
<line x1="450.6" y1="689.0" x2="681.3" y2="689.0" stroke="#EBEBEB" stroke-width="1.0"/>
<line x1="450.6" y1="642.3499999999999" x2="681.3" y2="642.3499999999999" stroke="#EBEBEB" stroke-width="1.0"/>
<line x1="450.6" y1="595.6999999999999" x2="681.3" y2="595.6999999999999" stroke="#EBEBEB" stroke-width="1.0"/>
<line x1="450.6" y1="549.05" x2="681.3" y2="549.05" stroke="#EBEBEB" stroke-width="1.0"/>
<line x1="486.4" y1="520.5" x2="486.4" y2="785.5" stroke="#EBEBEB" stroke-width="1.0"/>
<line x1="566.4" y1="520.5" x2="566.4" y2="785.5" stroke="#EBEBEB" stroke-width="1.0"/>
<line x1="646.2" y1="520.5" x2="646.2" y2="785.5" stroke="#EBEBEB" stroke-width="1.0"/>
<rect x="450.6" y="520.5" width="230.69999999999993" height="265.0" fill="none" stroke="#959595" stroke-width="1.1"/>
<line x1="448.40000000000003" y1="782.3" x2="450.6" y2="782.3" stroke="#555" stroke-width="1"/>
<text x="446.2" y="786.4" font-size="11" font-weight="normal" font-style="normal" fill="#4D4D4D" text-anchor="end" >0%</text>
<line x1="448.40000000000003" y1="735.65" x2="450.6" y2="735.65" stroke="#555" stroke-width="1"/>
<text x="446.2" y="739.75" font-size="11" font-weight="normal" font-style="normal" fill="#4D4D4D" text-anchor="end" >5%</text>
<line x1="448.40000000000003" y1="689.0" x2="450.6" y2="689.0" stroke="#555" stroke-width="1"/>
<text x="446.2" y="693.1" font-size="11" font-weight="normal" font-style="normal" fill="#4D4D4D" text-anchor="end" >10%</text>
<line x1="448.40000000000003" y1="642.3499999999999" x2="450.6" y2="642.3499999999999" stroke="#555" stroke-width="1"/>
<text x="446.2" y="646.4499999999999" font-size="11" font-weight="normal" font-style="normal" fill="#4D4D4D" text-anchor="end" >15%</text>
<line x1="448.40000000000003" y1="595.6999999999999" x2="450.6" y2="595.6999999999999" stroke="#555" stroke-width="1"/>
<text x="446.2" y="599.8" font-size="11" font-weight="normal" font-style="normal" fill="#4D4D4D" text-anchor="end" >20%</text>
<line x1="448.40000000000003" y1="549.05" x2="450.6" y2="549.05" stroke="#555" stroke-width="1"/>
<text x="446.2" y="553.15" font-size="11" font-weight="normal" font-style="normal" fill="#4D4D4D" text-anchor="end" >25%</text>
<line x1="486.4" y1="785.5" x2="486.4" y2="787.9" stroke="#333" stroke-width="1"/>
<line x1="566.4" y1="785.5" x2="566.4" y2="787.9" stroke="#333" stroke-width="1"/>
<line x1="646.2" y1="785.5" x2="646.2" y2="787.9" stroke="#333" stroke-width="1"/>
<g transform="translate(420.6,655.7) rotate(-90)"><text x="0" y="0" font-size="12.7" font-weight="bold" text-anchor="middle" fill="#000">Mosaicism in cfDNA (%)</text></g>
<text x="486.8" y="802.6" font-size="11.2" font-weight="normal" font-style="normal" fill="#4D4D4D" text-anchor="middle" >cfDNA</text>
<text x="488.9" y="815.8" font-size="11.2" font-weight="normal" font-style="normal" fill="#4D4D4D" text-anchor="middle" >Specific L1</text>
<text x="559.8" y="802.6" font-size="11.4" font-weight="normal" font-style="normal" fill="#4D4D4D" text-anchor="end" >cfDNA</text>
<path d="M565.8,802.2 V797.4 Q565.8,794.7 568.6,794.7 Q571.4,794.7 571.4,797.4 V802.2" fill="none" stroke="#8A8A8A" stroke-width="1.0"/>
<text x="577.4" y="802.6" font-size="11.2" font-weight="normal" font-style="normal" fill="#4D4D4D" text-anchor="start" >Tumor</text>
<text x="647.4" y="802.8" font-size="11.2" font-weight="normal" font-style="normal" fill="#4D4D4D" text-anchor="middle" >Tumor</text>
<text x="647.7" y="816" font-size="11.2" font-weight="normal" font-style="normal" fill="#4D4D4D" text-anchor="middle" >Specific L1</text>
<path d="M566.5,539 V536.3 H646.6 V539" fill="none" stroke="#3F3F3F" stroke-width="1.4"/>
<text x="606" y="532.7" font-size="10.1" font-weight="bold" font-style="normal" fill="#333" text-anchor="middle" >0.0002</text>
<line x1="486.5" y1="741.2" x2="486.5" y2="743.2" stroke="#333" stroke-width="0.9"/>
<line x1="486.5" y1="756.6" x2="486.5" y2="760.6" stroke="#333" stroke-width="0.9"/>
<rect x="456.6" y="743.2" width="60.0" height="13.399999999999977" fill="#CFD1D1" stroke="#3A3A3A" stroke-width="0.9"/>
<line x1="456.6" y1="751.2" x2="516.6" y2="751.2" stroke="#2A2A2A" stroke-width="1.6"/>
<line x1="566.5" y1="629.2" x2="566.5" y2="691.6" stroke="#333" stroke-width="0.9"/>
<line x1="566.5" y1="739.5" x2="566.5" y2="756.4" stroke="#333" stroke-width="0.9"/>
<rect x="536.5" y="691.6" width="60.299999999999955" height="47.89999999999998" fill="#E1878F" stroke="#3A3A3A" stroke-width="0.9"/>
<line x1="536.5" y1="720.2" x2="596.8" y2="720.2" stroke="#2A2A2A" stroke-width="1.6"/>
<line x1="646.4" y1="712.0" x2="646.4" y2="737.3" stroke="#333" stroke-width="0.9"/>
<line x1="646.4" y1="770.5" x2="646.4" y2="770.5" stroke="#333" stroke-width="0.9"/>
<rect x="616.2" y="737.3" width="60.0" height="33.200000000000045" fill="#FCD893" stroke="#3A3A3A" stroke-width="0.9"/>
<line x1="616.2" y1="760.4" x2="676.2" y2="760.4" stroke="#2A2A2A" stroke-width="1.6"/>
<circle cx="481.80" cy="741.20" r="3.25" fill="#A0A0A0" stroke="#2E2E2E" stroke-width="0.9"/>
<circle cx="491.40" cy="741.50" r="3.25" fill="#A0A0A0" stroke="#2E2E2E" stroke-width="0.9"/>
<circle cx="487.60" cy="748.10" r="3.25" fill="#A0A0A0" stroke="#2E2E2E" stroke-width="0.9"/>
<circle cx="494.10" cy="756.80" r="3.25" fill="#A0A0A0" stroke="#2E2E2E" stroke-width="0.9"/>
<circle cx="500.90" cy="755.00" r="3.25" fill="#A0A0A0" stroke="#2E2E2E" stroke-width="0.9"/>
<circle cx="474.30" cy="760.40" r="3.25" fill="#A0A0A0" stroke="#2E2E2E" stroke-width="0.9"/>
<circle cx="562.80" cy="572.10" r="3.25" fill="#C92539" stroke="#1A1A1A" stroke-width="1.05"/>
<circle cx="565.90" cy="601.70" r="3.25" fill="#C92539" stroke="#1A1A1A" stroke-width="1.05"/>
<circle cx="556.70" cy="629.30" r="3.25" fill="#C92539" stroke="#1A1A1A" stroke-width="1.05"/>
<circle cx="557.50" cy="649.00" r="3.25" fill="#C92539" stroke="#1A1A1A" stroke-width="1.05"/>
<circle cx="565.80" cy="653.30" r="3.25" fill="#C92539" stroke="#1A1A1A" stroke-width="1.05"/>
<circle cx="565.50" cy="664.40" r="3.25" fill="#C92539" stroke="#1A1A1A" stroke-width="1.05"/>
<circle cx="573.50" cy="679.50" r="3.25" fill="#C92539" stroke="#1A1A1A" stroke-width="1.05"/>
<circle cx="556.50" cy="689.60" r="3.25" fill="#C92539" stroke="#1A1A1A" stroke-width="1.05"/>
<circle cx="563.00" cy="693.20" r="3.25" fill="#C92539" stroke="#1A1A1A" stroke-width="1.05"/>
<circle cx="577.10" cy="690.90" r="3.25" fill="#C92539" stroke="#1A1A1A" stroke-width="1.05"/>
<circle cx="570.80" cy="694.20" r="3.25" fill="#C92539" stroke="#1A1A1A" stroke-width="1.05"/>
<circle cx="582.80" cy="695.90" r="3.25" fill="#C92539" stroke="#1A1A1A" stroke-width="1.05"/>
<circle cx="554.20" cy="697.10" r="3.25" fill="#C92539" stroke="#1A1A1A" stroke-width="1.05"/>
<circle cx="559.60" cy="697.90" r="3.25" fill="#C92539" stroke="#1A1A1A" stroke-width="1.05"/>
<circle cx="565.30" cy="699.00" r="3.25" fill="#C92539" stroke="#1A1A1A" stroke-width="1.05"/>
<circle cx="576.50" cy="699.40" r="3.25" fill="#C92539" stroke="#1A1A1A" stroke-width="1.05"/>
<circle cx="559.40" cy="718.40" r="3.25" fill="#C92539" stroke="#1A1A1A" stroke-width="1.05"/>
<circle cx="565.30" cy="721.70" r="3.25" fill="#C92539" stroke="#1A1A1A" stroke-width="1.05"/>
<circle cx="553.70" cy="723.90" r="3.25" fill="#C92539" stroke="#1A1A1A" stroke-width="1.05"/>
<circle cx="589.50" cy="722.30" r="3.25" fill="#C92539" stroke="#1A1A1A" stroke-width="1.05"/>
<circle cx="557.30" cy="735.60" r="3.25" fill="#C92539" stroke="#1A1A1A" stroke-width="1.05"/>
<circle cx="566.50" cy="735.00" r="3.25" fill="#C92539" stroke="#1A1A1A" stroke-width="1.05"/>
<circle cx="573.20" cy="731.60" r="3.25" fill="#C92539" stroke="#1A1A1A" stroke-width="1.05"/>
<circle cx="583.00" cy="733.80" r="3.25" fill="#C92539" stroke="#1A1A1A" stroke-width="1.05"/>
<circle cx="577.60" cy="737.60" r="3.25" fill="#C92539" stroke="#1A1A1A" stroke-width="1.05"/>
<circle cx="549.30" cy="740.20" r="3.25" fill="#C92539" stroke="#1A1A1A" stroke-width="1.05"/>
<circle cx="555.30" cy="743.40" r="3.25" fill="#C92539" stroke="#1A1A1A" stroke-width="1.05"/>
<circle cx="562.20" cy="741.80" r="3.25" fill="#C92539" stroke="#1A1A1A" stroke-width="1.05"/>
<circle cx="571.00" cy="741.50" r="3.25" fill="#C92539" stroke="#1A1A1A" stroke-width="1.05"/>
<circle cx="578.80" cy="744.40" r="3.25" fill="#C92539" stroke="#1A1A1A" stroke-width="1.05"/>
<circle cx="570.50" cy="748.80" r="3.25" fill="#C92539" stroke="#1A1A1A" stroke-width="1.05"/>
<circle cx="554.90" cy="752.70" r="3.25" fill="#C92539" stroke="#1A1A1A" stroke-width="1.05"/>
<circle cx="562.00" cy="754.80" r="3.25" fill="#C92539" stroke="#1A1A1A" stroke-width="1.05"/>
<circle cx="572.10" cy="756.90" r="3.25" fill="#C92539" stroke="#1A1A1A" stroke-width="1.05"/>
<circle cx="578.50" cy="547.60" r="3.25" fill="#1BAE58" stroke="#1A1A1A" stroke-width="1.05"/>
<circle cx="573.20" cy="581.30" r="3.25" fill="#1BAE58" stroke="#1A1A1A" stroke-width="1.05"/>
<circle cx="543.70" cy="659.40" r="3.25" fill="#1BAE58" stroke="#1A1A1A" stroke-width="1.05"/>
<circle cx="578.40" cy="714.00" r="3.25" fill="#1BAE58" stroke="#1A1A1A" stroke-width="1.05"/>
<circle cx="651.30" cy="651.70" r="3.25" fill="#F9BC40" stroke="#1A1A1A" stroke-width="1.05"/>
<circle cx="653.10" cy="711.30" r="3.25" fill="#F9BC40" stroke="#1A1A1A" stroke-width="1.05"/>
<circle cx="642.70" cy="718.90" r="3.25" fill="#F9BC40" stroke="#1A1A1A" stroke-width="1.05"/>
<circle cx="652.40" cy="735.80" r="3.25" fill="#F9BC40" stroke="#1A1A1A" stroke-width="1.05"/>
<circle cx="631.90" cy="742.00" r="3.25" fill="#F9BC40" stroke="#1A1A1A" stroke-width="1.05"/>
<circle cx="636.50" cy="758.20" r="3.25" fill="#F9BC40" stroke="#1A1A1A" stroke-width="1.05"/>
<circle cx="649.70" cy="755.90" r="3.25" fill="#F9BC40" stroke="#1A1A1A" stroke-width="1.05"/>
<circle cx="643.90" cy="762.80" r="3.25" fill="#F9BC40" stroke="#1A1A1A" stroke-width="1.05"/>
<circle cx="650.80" cy="762.80" r="3.25" fill="#F9BC40" stroke="#1A1A1A" stroke-width="1.05"/>
<circle cx="637.70" cy="770.20" r="3.25" fill="#F9BC40" stroke="#1A1A1A" stroke-width="1.05"/>
<circle cx="642.70" cy="774.80" r="3.25" fill="#F9BC40" stroke="#1A1A1A" stroke-width="1.05"/>
<circle cx="650.80" cy="771.40" r="3.25" fill="#F9BC40" stroke="#1A1A1A" stroke-width="1.05"/>
<circle cx="658.20" cy="770.90" r="3.25" fill="#F9BC40" stroke="#1A1A1A" stroke-width="1.05"/>
<circle cx="664.70" cy="770.40" r="3.25" fill="#F9BC40" stroke="#1A1A1A" stroke-width="1.05"/>
</svg></body></html>
